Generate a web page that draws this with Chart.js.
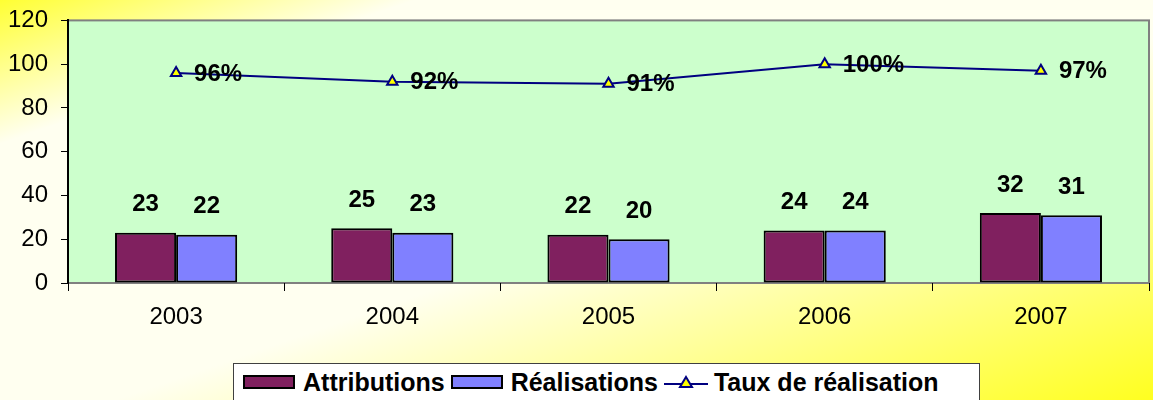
<!DOCTYPE html>
<html>
<head>
<meta charset="utf-8">
<script src="https://cdn.jsdelivr.net/npm/chart.js@4"></script>
<style>
  html, body { margin: 0; padding: 0; }
  body {
    width: 1153px; height: 400px; overflow: hidden; position: relative;
    background: linear-gradient(to bottom right, #ffff33 0%, #fffff0 18%, #fffff0 55%, #ffff20 100%);
    font-family: "Liberation Sans", Arial, sans-serif;
  }
  #wrap { position: absolute; left: 0; top: -7px; width: 1157px; height: 407px; }
  #legend {
    position: absolute; left: 233px; top: 363px; width: 747px;
    box-sizing: border-box; background: #fff; border: 1px solid #404040;
    display: flex; align-items: center; height: 46px; padding: 0 0 8px 9px;
    font: bold 25px "Liberation Sans", Arial, sans-serif; color: #000;
  }
  #legend .item { display: flex; align-items: center; margin-right: 6px; white-space: nowrap; }
  #legend .box { width: 52px; height: 14px; border: 2px solid #000; box-sizing: border-box; margin-right: 8px; }
  #legend canvas { margin-right: 6px; }
</style>
</head>
<body>
<div id="wrap"><canvas id="chart"></canvas></div>
<div id="legend"></div>
<script>
// données
const years = ['2003', '2004', '2005', '2006', '2007'];
const attributions = [23, 25, 22, 24, 32];
const realisations = [22, 23, 20, 24, 31];
const tauxRealisation = [96, 92, 91, 100, 97];
const yStep = 20;
const yMax = 120;

const FONT = '"Liberation Sans", Arial, sans-serif';

// fond vert + cadre de la zone de tracé
const plotFrame = {
  id: 'plotFrame',
  beforeDraw(chart) {
    const { ctx, chartArea: a } = chart;
    ctx.save();
    ctx.fillStyle = '#ccffcc';
    ctx.fillRect(a.left, a.top, a.right - a.left, a.bottom - a.top);
    ctx.strokeStyle = '#808080';
    ctx.lineWidth = 2;
    ctx.strokeRect(a.left, a.top, a.right - a.left, a.bottom - a.top);
    ctx.restore();
  }
};

// étiquettes de valeurs
const valueLabels = {
  id: 'valueLabels',
  afterDatasetsDraw(chart) {
    const ctx = chart.ctx;
    ctx.save();
    ctx.fillStyle = '#000';
    ctx.font = 'bold 24px ' + FONT;
    ctx.textBaseline = 'middle';
    chart.data.datasets.forEach((ds, i) => {
      const meta = chart.getDatasetMeta(i);
      meta.data.forEach((el, j) => {
        if (ds.type === 'line') {
          ctx.textAlign = 'left';
          ctx.fillText(ds.data[j] + '%', el.x + 18, el.y + 1);
        } else {
          ctx.textAlign = 'center';
          ctx.fillText(ds.data[j], el.x, el.y - 28);
        }
      });
    });
    ctx.restore();
  }
};

const chart = new Chart(document.getElementById('chart'), {
  data: {
    labels: years,
    datasets: [
      {
        type: 'line',
        label: 'Taux de réalisation',
        data: tauxRealisation,
        borderColor: '#000080',
        borderWidth: 2,
        tension: 0,
        pointStyle: 'triangle',
        pointRadius: 6,
        pointBackgroundColor: '#ffff00',
        pointBorderColor: '#000080',
        pointBorderWidth: 2,
        order: 0
      },
      {
        type: 'bar',
        label: 'Attributions',
        data: attributions,
        backgroundColor: '#80205f',
        borderColor: '#000',
        borderWidth: 2,
        borderSkipped: false,
        categoryPercentage: 0.565,
        barPercentage: 1,
        order: 1
      },
      {
        type: 'bar',
        label: 'Réalisations',
        data: realisations,
        backgroundColor: '#8080ff',
        borderColor: '#000',
        borderWidth: 2,
        borderSkipped: false,
        categoryPercentage: 0.565,
        barPercentage: 1,
        order: 1
      }
    ]
  },
  options: {
    responsive: true,
    maintainAspectRatio: false,
    animation: false,
    layout: { padding: { top: 6, right: 0, left: 0, bottom: 0 } },
    plugins: {
      legend: { display: false },
      tooltip: { enabled: false }
    },
    scales: {
      x: {
        grid: { display: true, drawOnChartArea: false, tickLength: 8, color: '#000', offset: true },
        border: { display: false },
        ticks: { color: '#000', font: { size: 24, family: FONT }, padding: 12 },
        afterFit(s) { s.height = 117; }
      },
      y: {
        min: 0,
        max: yMax,
        ticks: { stepSize: yStep, color: '#000', font: { size: 24, family: FONT }, padding: 13 },
        grid: { drawOnChartArea: false, tickLength: 7, color: '#000' },
        border: { color: '#000', width: 2 },
        afterFit(s) { s.width = 68; }
      }
    }
  },
  plugins: [plotFrame, valueLabels]
});

// légende HTML
const legend = document.getElementById('legend');
[1, 2, 0].forEach(i => {
  const ds = chart.data.datasets[i];
  const item = document.createElement('div');
  item.className = 'item';
  if (ds.type === 'bar') {
    const box = document.createElement('span');
    box.className = 'box';
    box.style.background = ds.backgroundColor;
    item.appendChild(box);
  } else {
    const c = document.createElement('canvas');
    c.width = 44; c.height = 20;
    const g = c.getContext('2d');
    g.strokeStyle = ds.borderColor; g.lineWidth = 2;
    g.beginPath(); g.moveTo(0, 12); g.lineTo(44, 12); g.stroke();
    g.beginPath(); g.moveTo(22, 5); g.lineTo(28, 15); g.lineTo(16, 15); g.closePath();
    g.fillStyle = ds.pointBackgroundColor; g.fill();
    g.strokeStyle = ds.pointBorderColor; g.stroke();
    item.appendChild(c);
  }
  const t = document.createElement('span');
  t.textContent = ds.label;
  item.appendChild(t);
  legend.appendChild(item);
});
</script>
</body>
</html>
